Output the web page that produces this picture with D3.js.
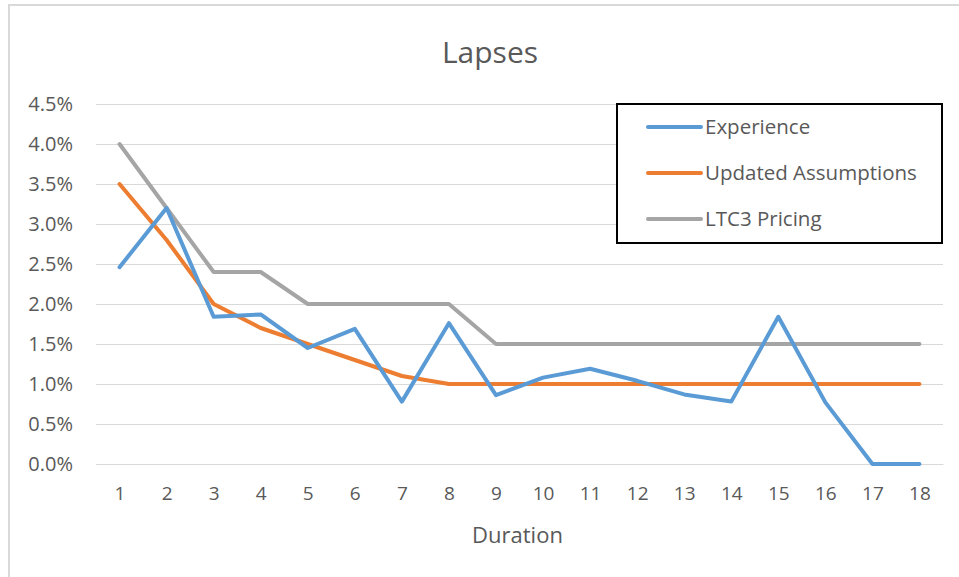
<!DOCTYPE html>
<html>
<head>
<meta charset="utf-8">
<script src="https://cdn.jsdelivr.net/npm/d3@7"></script>
<style>
  html, body { margin: 0; padding: 0; background: #fff; }
  svg { display: block; }
  text { font-family: "Open Sans", Lato, sans-serif; }
</style>
</head>
<body>
<svg id="chart" width="959" height="577"></svg>
<script>
// Policy duration (years)
const durations = [1, 2, 3, 4, 5, 6, 7, 8, 9, 10, 11, 12, 13, 14, 15, 16, 17, 18];

// Annual lapse rates, in percent
const experience = [2.46, 3.20, 1.84, 1.87, 1.45, 1.69, 0.78, 1.76, 0.86, 1.08, 1.19, 1.04, 0.87, 0.78, 1.84, 0.77, 0.0, 0.0];
const updatedAssumptions = [3.5, 2.8, 2.0, 1.7, 1.5, 1.3, 1.1, 1.0, 1.0, 1.0, 1.0, 1.0, 1.0, 1.0, 1.0, 1.0, 1.0, 1.0];
const ltc3Pricing = [4.0, 3.2, 2.4, 2.4, 2.0, 2.0, 2.0, 2.0, 1.5, 1.5, 1.5, 1.5, 1.5, 1.5, 1.5, 1.5, 1.5, 1.5];

const yTicks = [0, 0.5, 1.0, 1.5, 2.0, 2.5, 3.0, 3.5, 4.0, 4.5];

const seriesNames = ["Experience", "Updated Assumptions", "LTC3 Pricing"];
const seriesColors = ["#5B9BD5", "#ED7D31", "#A5A5A5"];

const series = [experience, updatedAssumptions, ltc3Pricing].map((vals, i) => ({
  name: seriesNames[i],
  color: seriesColors[i],
  values: vals.map((v, j) => ({ d: durations[j], v }))
}));

const svg = d3.select("#chart");

// outer chart frame
svg.append("rect")
  .attr("x", 9).attr("y", 5)
  .attr("width", 970).attr("height", 600)
  .attr("fill", "#fff")
  .attr("stroke", "#D9D9D9").attr("stroke-width", 2);

const plot = { left: 96, right: 943, top: 104, bottom: 464 };

const x = d3.scalePoint()
  .domain(durations)
  .range([plot.left, plot.right])
  .padding(0.5);

const y = d3.scaleLinear()
  .domain([0, 4.5])
  .range([plot.bottom, plot.top]);

// horizontal gridlines + y labels
const yAxis = d3.axisLeft(y)
  .tickValues(yTicks)
  .tickSize(-(plot.right - plot.left))
  .tickPadding(23)
  .tickFormat(d => d.toFixed(1) + "%");

const gy = svg.append("g")
  .attr("transform", `translate(${plot.left},0)`)
  .call(yAxis);
gy.select(".domain").remove();
gy.selectAll(".tick line").attr("stroke", "#D9D9D9").attr("stroke-width", 1);
gy.selectAll(".tick text")
  .attr("fill", "#595959")
  .style("font-size", "20px");

// x axis labels
const xAxis = d3.axisBottom(x).tickSize(0).tickPadding(23);
const gx = svg.append("g")
  .attr("transform", `translate(0,${plot.bottom})`)
  .call(xAxis);
gx.select(".domain").attr("stroke", "#D9D9D9");
gx.selectAll(".tick text")
  .attr("fill", "#595959")
  .style("font-size", "19px");

// lines
const line = d3.line()
  .x(d => x(d.d))
  .y(d => y(d.v));

svg.append("g").selectAll("path")
  .data(series.slice().reverse())
  .join("path")
  .attr("d", d => line(d.values))
  .attr("fill", "none")
  .attr("stroke", d => d.color)
  .attr("stroke-width", 4)
  .attr("stroke-linejoin", "round")
  .attr("stroke-linecap", "round");

// title
svg.append("text")
  .attr("x", 490).attr("y", 63)
  .attr("text-anchor", "middle")
  .attr("fill", "#595959")
  .style("font-size", "30px")
  .text("Lapses");

// x axis title
svg.append("text")
  .attr("x", (plot.left + plot.right) / 2 - 2).attr("y", 543)
  .attr("text-anchor", "middle")
  .attr("fill", "#595959")
  .style("font-size", "22px")
  .text("Duration");

// legend
const legend = svg.append("g");
legend.append("rect")
  .attr("x", 617).attr("y", 104)
  .attr("width", 325).attr("height", 139)
  .attr("fill", "#fff")
  .attr("stroke", "#000").attr("stroke-width", 2);

const li = legend.selectAll("g.item")
  .data(series)
  .join("g")
  .attr("class", "item")
  .attr("transform", (d, i) => `translate(0,${127 + i * 46})`);
li.append("line")
  .attr("x1", 648).attr("x2", 701)
  .attr("stroke", d => d.color)
  .attr("stroke-width", 4)
  .attr("stroke-linecap", "round");
li.append("text")
  .attr("x", 705).attr("y", 7)
  .attr("fill", "#595959")
  .style("font-size", "20.5px")
  .text(d => d.name);
</script>
</body>
</html>
